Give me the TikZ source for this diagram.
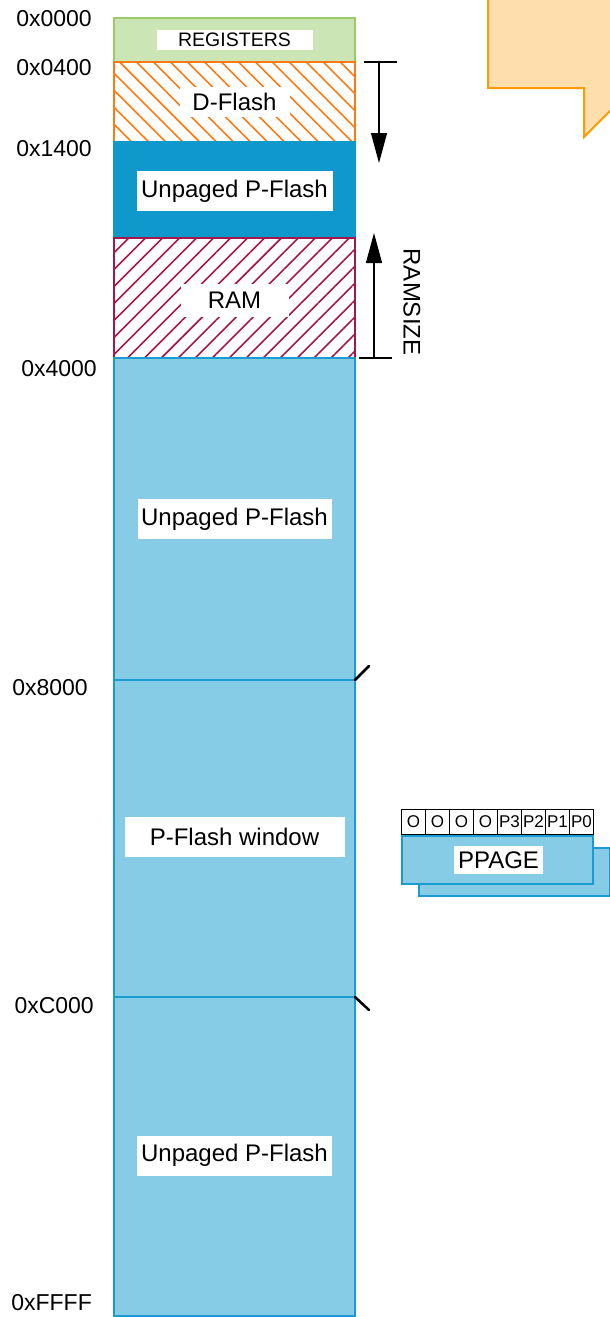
\documentclass[tikz,border=0pt]{standalone}
\usepackage{fontspec}
\setmainfont{Liberation Sans}
\usepackage{xcolor}
\usepackage{tikz}
\usetikzlibrary{arrows.meta, positioning, patterns.meta}
\definecolor{reggreen}{HTML}{CCE5B4}
\definecolor{regborder}{HTML}{9BCB69}
\definecolor{dforange}{HTML}{FF7A10}
\definecolor{ramred}{HTML}{A3174A}
\definecolor{darkblue}{HTML}{0F98CC}
\definecolor{lightblue}{HTML}{87CCE6}
\definecolor{blueborder}{HTML}{1A9BD1}
\definecolor{calloutfill}{HTML}{FFDEAE}
\definecolor{calloutline}{HTML}{FF9A00}
\tikzset{
    memblock/.style={
        rectangle,
        inner sep=0pt,
        outer sep=0pt,
        minimum width=241pt,
        line width=2pt
    },
    regblock/.style={memblock, fill=reggreen, draw=regborder},
    dflashblock/.style={memblock, draw=dforange, line width=2.5pt,
        pattern={Lines[angle=-45,distance=12pt,line width=1.6pt]},
        pattern color=dforange},
    ramblock/.style={memblock, draw=ramred, line width=2.5pt,
        pattern={Lines[angle=45,distance=12pt,line width=1.6pt]},
        pattern color=ramred},
    darkblock/.style={memblock, fill=darkblue, draw=darkblue},
    flashblock/.style={memblock, fill=lightblue, draw=blueborder},
    tag/.style={
        rectangle,
        fill=white,
        inner sep=0pt,
        minimum height=40pt,
        font=\fontsize{24}{26}\selectfont
    },
    addr/.style={anchor=east, inner sep=0pt, font=\fontsize{23}{26}\selectfont},
    bitcell/.style={
        rectangle,
        draw=black,
        fill=white,
        line width=0.9pt,
        inner sep=0pt,
        minimum width=24pt,
        minimum height=25pt,
        font=\fontsize{17}{19}\selectfont
    },
    regcopy/.style={rectangle, fill=lightblue, draw=blueborder, line width=2pt,
        inner sep=0pt, minimum width=191pt, minimum height=48pt},
    dimarrow/.style={-{Triangle[length=30pt,width=16pt]}, line width=1.2pt},
    dimcap/.style={line width=1.2pt},
    tick/.style={line width=2.5pt, line cap=round}
}

\begin{document}
\begin{tikzpicture}[x=1pt, y=-1pt]
    \useasboundingbox (0,0) rectangle (610,1317);

    % callout in the corner
    \begin{scope}
        \clip (0,0) rectangle (610,1317);
        \draw[fill=calloutfill, draw=calloutline, line width=2pt]
            (488,-10) -- (488,88) -- (584,88) -- (584,137) -- (630,91) -- (630,-10) -- cycle;
    \end{scope}

    % memory map
    \node[regblock, minimum height=44pt, anchor=north west] (reg) at (114,18) {};
    \node[dflashblock, minimum height=80pt, below=0pt of reg] (dflash) {};
    \node[darkblock, minimum height=96pt, below=0pt of dflash] (upf1) {};
    \node[ramblock, minimum height=120pt, below=0pt of upf1] (ram) {};
    \node[flashblock, minimum height=322pt, below=0pt of ram] (upf2) {};
    \node[flashblock, minimum height=317pt, below=0pt of upf2] (window) {};
    \node[flashblock, minimum height=319pt, below=0pt of window] (upf3) {};

    \node[tag, minimum width=156pt, minimum height=20pt, font=\fontsize{19.5}{21}\selectfont] (regtxt) at (reg) {REGISTERS};
    \node[tag, minimum width=110pt, minimum height=30pt] (dflashtxt) at (dflash) {D-Flash};
    \node[tag, minimum width=196pt] (upf1txt) at ([yshift=-1pt]upf1) {Unpaged P-Flash};
    \node[tag, minimum width=108pt, minimum height=33pt] (ramtxt) at ([yshift=-2pt]ram) {RAM};
    \node[tag, minimum width=194pt] (upf2txt) at (upf2) {Unpaged P-Flash};
    \node[tag, minimum width=220pt] (windowtxt) at ([yshift=2pt]window) {P-Flash window};
    \node[tag, minimum width=195pt] (upf3txt) at ([yshift=1pt]upf3) {Unpaged P-Flash};

    % addresses
    \node[addr] (a0000) at (92,19) {0x0000};
    \node[addr] (a0400) at (92,68) {0x0400};
    \node[addr] (a1400) at (92,149) {0x1400};
    \node[addr] (a4000) at (97,369) {0x4000};
    \node[addr] (a8000) at (88,688) {0x8000};
    \node[addr] (aC000) at (94,1006) {0xC000};
    \node[addr] (aFFFF) at (92,1303) {0xFFFF};

    % D-Flash and RAMSIZE arrows
    \coordinate (dftop) at (379,62);
    \coordinate (dftip) at (379,163);
    \draw[dimcap] ([xshift=-15pt]dftop) -- ([xshift=18pt]dftop);
    \draw[dimarrow] (dftop) -- (dftip);

    \coordinate (rambot) at (374,358);
    \coordinate (ramtip) at (374,233);
    \draw[dimcap] ([xshift=-15pt]rambot) -- ([xshift=18pt]rambot);
    \draw[dimarrow] (rambot) -- (ramtip);
    \node[rotate=-90, inner sep=0pt, font=\fontsize{24}{26}\selectfont] (ramsize) at (412,302) {RAMSIZE};

    % window borders
    \draw[tick] (upf2.south east) -- ++(14,-14);
    \draw[tick] (window.south east) -- ++(14,13);

    % PPAGE register
    \node[regcopy, anchor=north west] (ppageback) at (418,847) {};
    \node[regcopy, anchor=north west] (ppage) at (401,835) {};
    \node[tag, minimum width=89pt, minimum height=28pt] (ppagetxt) at ([xshift=1pt]ppage) {PPAGE};
    \foreach \b [count=\i from 0] in {O,O,O,O,P3,P2,P1,P0}
        \node[bitcell, anchor=south west] (bit\i) at (401+24*\i,835) {\b};
\end{tikzpicture}
\end{document}
